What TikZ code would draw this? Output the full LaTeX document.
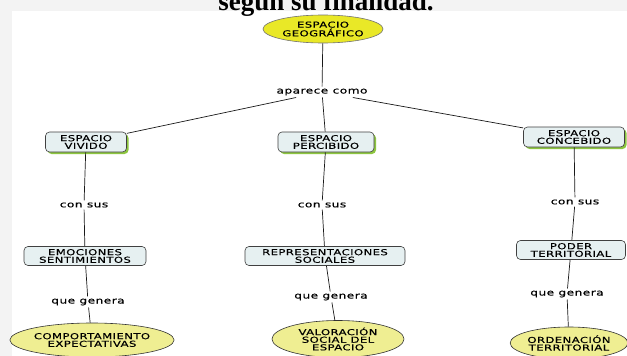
\documentclass[tikz,border=0pt]{standalone}
\usepackage{fontspec}
\setmainfont{Liberation Serif}
\newfontfamily\mapfont[FakeStretch=1.42,LetterSpace=5,FakeBold=0.4]{DejaVu Sans}
\usetikzlibrary{shapes.geometric,shadows}
\definecolor{pagegray}{HTML}{F3F3F3}
\definecolor{boxfill}{HTML}{E6F0F1}
\definecolor{boxgreen}{HTML}{8DC63F}
\definecolor{topyellow}{HTML}{E9E827}
\definecolor{leafyellow}{HTML}{EFEE92}
\begin{document}
\begin{tikzpicture}[x=1pt,y=-1pt,
  concept/.style = {draw = black!75, fill = boxfill, rounded corners = 4pt, align = center,
    font = \mapfont\fontsize{8.2}{7.6}\selectfont, inner sep = 2pt, line width = 0.6pt},
  greenconcept/.style = {concept, drop shadow = {shadow xshift = 2pt, shadow yshift = -2pt, fill = boxgreen, opacity = 1}},
  topconcept/.style = {ellipse, draw = black!55, fill = topyellow, align = center, inner sep = 0pt,
    font = \mapfont\fontsize{8.2}{7.6}\selectfont, line width = 0.6pt},
  leafconcept/.style = {topconcept, fill = leafyellow, draw = black!80},
  linkword/.style = {font = \mapfont\fontsize{8.6}{9}\selectfont, inner sep = 2pt},
  link/.style = {draw = black!90, line width = 0.7pt}]
\useasboundingbox (0,0) rectangle (627,356);
\clip (0,0) rectangle (627,356);
\fill[pagegray] (0,0) rectangle (627,356);
\fill[white] (12,11) rectangle (627,356);
\node[font = \bfseries\fontsize{27}{30}\selectfont, anchor = base] (title) at (326,10) {según su finalidad.};

\node[topconcept, minimum width = 120, minimum height = 28] (geo) at (323,29) {ESPACIO\\GEOGRÁFICO};
\node[linkword] (aparece) at (322,92) {aparece como};

\node[greenconcept, minimum width = 81, minimum height = 20] (vivido) at (86,142) {ESPACIO\\VIVIDO};
\node[greenconcept, minimum width = 96, minimum height = 20] (percibido) at (326,142) {ESPACIO\\PERCIBIDO};
\node[greenconcept, minimum width = 101, minimum height = 20] (concebido) at (574,137) {ESPACIO\\CONCEBIDO};

\node[linkword] (consusA) at (84,205) {con sus};
\node[linkword] (consusB) at (322,205) {con sus};
\node[linkword] (consusC) at (575,202) {con sus};

\node[concept, minimum width = 122, minimum height = 19] (emociones) at (85,256) {EMOCIONES\\SENTIMIENTOS};
\node[concept, minimum width = 160, minimum height = 19] (representaciones) at (325,256) {REPRESENTACIONES\\SOCIALES};
\node[concept, minimum width = 109, minimum height = 19] (poder) at (571,250) {PODER\\TERRITORIAL};

\node[linkword] (generaA) at (88,302) {que genera};
\node[linkword] (generaB) at (331,297) {que genera};
\node[linkword] (generaC) at (567,294) {que genera};

\node[leafconcept, minimum width = 159, minimum height = 34] (comportamiento) at (92,340) {COMPORTAMIENTO\\EXPECTATIVAS};
\node[leafconcept, minimum width = 132, minimum height = 37] (valoracion) at (338,339) {VALORACIÓN\\SOCIAL DEL\\ESPACIO};
\node[leafconcept, minimum width = 116, minimum height = 32] (ordenacion) at (569,343) {ORDENACIÓN\\TERRITORIAL};

\draw[link] (geo) -- (aparece);
\foreach \a in {vivido,percibido,concebido} \draw[link] (aparece) -- (\a);
\draw[link] (vivido) -- (consusA);
\draw[link] (consusA) -- (emociones);
\draw[link] (emociones) -- (generaA);
\draw[link] (generaA) -- (comportamiento);
\draw[link] (percibido) -- (consusB);
\draw[link] (consusB) -- (representaciones);
\draw[link] (representaciones) -- (generaB);
\draw[link] (generaB) -- (valoracion);
\draw[link] (concebido) -- (consusC);
\draw[link] (consusC) -- (poder);
\draw[link] (poder) -- (generaC);
\draw[link] (generaC) -- (ordenacion);
\end{tikzpicture}
\end{document}
